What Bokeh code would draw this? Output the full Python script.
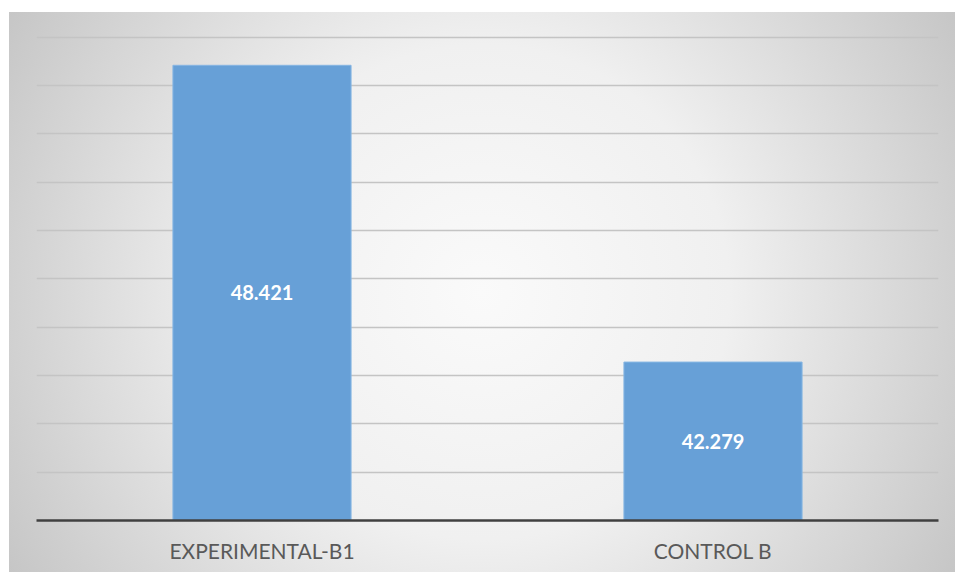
from bokeh.plotting import figure
from bokeh.models import ColumnDataSource, FixedTicker
from bokeh.core.properties import value
from bokeh.embed import file_html
from bokeh.resources import INLINE

categories = ["EXPERIMENTAL-B1", "CONTROL B"]
values = [48.421, 42.279]
y_min = 39
y_max = 49.1
grid_ticks = [39, 40, 41, 42, 43, 44, 45, 46, 47, 48, 49]

labels = [f"{v:.3f}" for v in values]
mids = [(y_min + v) / 2 for v in values]
source = ColumnDataSource(data=dict(cat=categories, val=values, bottom=[y_min] * len(values),
                                    mid=mids, label=labels))

p = figure(width=955, height=572, x_range=categories, y_range=(y_min, y_max),
           output_backend="svg", toolbar_location=None, y_axis_location=None,
           min_border_left=36, min_border_right=17, min_border_top=32, min_border_bottom=52)

p.styles = {
    "background": "radial-gradient(circle farthest-corner at 50% 50%, #fafafa 0%, #f0f0f0 45%, #c6c6c6 100%) 9px 12px / 946px 560px no-repeat, #ffffff"
}
p.border_fill_color = None
p.background_fill_color = None
p.outline_line_color = None

p.vbar(x="cat", top="val", bottom="bottom", width=0.395, source=source,
       fill_color="#67a0d7", line_color="#86b6e3", line_width=1)

p.text(x="cat", y="mid", text="label", source=source, text_align="center",
       text_baseline="middle", text_color="#ffffff", text_font=value("Lato"),
       text_font_size="20px", text_font_style="bold")

p.xgrid.visible = False
p.ygrid[0].ticker = FixedTicker(ticks=grid_ticks)
p.ygrid.grid_line_color = "#c4c4c4"
p.ygrid.grid_line_width = 1.5

xa = p.xaxis[0]
xa.axis_line_color = "#404040"
xa.axis_line_width = 2.5
xa.major_tick_line_color = None
xa.minor_tick_line_color = None
xa.major_label_text_font = "Lato"
xa.major_label_text_font_size = "21px"
xa.major_label_text_color = "#595959"
xa.major_label_standoff = 11

open("out.html", "w").write(file_html(p, INLINE))
